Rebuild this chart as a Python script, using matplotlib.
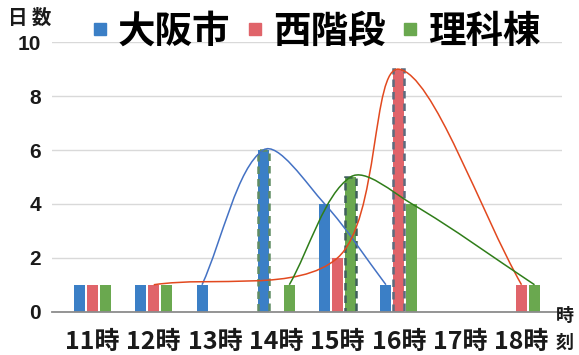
import numpy as np
import matplotlib
matplotlib.use('Agg')
import matplotlib.pyplot as plt
from matplotlib.path import Path
from matplotlib.patches import PathPatch
from matplotlib.lines import Line2D

# data: days counted per hour
hours = ['11時', '12時', '13時', '14時', '15時', '16時', '17時', '18時']
osaka = [1, 1, 1, 6, 4, 1, 0, 0]
nishi = [1, 1, 0, 0, 2, 9, 0, 1]
rika  = [1, 1, 0, 1, 5, 4, 0, 1]
names = ['大阪市', '西階段', '理科棟']

# hours joined by each smoothed trend line
osaka_curve = ['13時', '14時', '15時', '16時']
nishi_curve = ['12時', '15時', '16時', '18時']
rika_curve  = ['14時', '15時', '16時', '18時']

# colours
bar_cols   = ['#3b7fc6', '#e0646a', '#6aa84f']
line_cols  = ['#4472c4', '#e2491f', '#2f7d19']
edge_cols  = ['#5f8c63', '#5b6b7e', '#3f5f5c']

cjk   = 'Noto Sans CJK JP'
digit = ['Liberation Sans Narrow', cjk]

fig = plt.figure(figsize=(5.79, 3.55), dpi=100)
ax  = fig.add_axes([0.0898, 0.122, 0.8808, 0.759])

x     = np.arange(len(hours))
off   = 0.212
width = 0.18
ax.set_xlim(-0.66, 7.66)
ax.set_ylim(0, 10)

series = [osaka, nishi, rika]
curves = [osaka_curve, nishi_curve, rika_curve]

for k, vals in enumerate(series):
    xs = x + (k - 1) * off
    ax.bar(xs, vals, width, color=bar_cols[k], zorder=2)
    # dashed outline on the busiest hour
    i = int(np.argmax(vals))
    ax.bar(xs[i], vals[i], width, fill=False, edgecolor=edge_cols[k],
           linestyle=(0, (3, 2)), linewidth=1.8, zorder=3)


def smooth_path(xs, ys):
    # cubic bezier through the points, tangents weighted by screen distance
    pts  = np.column_stack([xs, ys]).astype(float)
    disp = ax.transData.transform(pts)
    n    = len(pts)
    d    = [np.hypot(*(disp[j + 1] - disp[j])) for j in range(n - 1)]
    verts = [pts[0]]
    codes = [Path.MOVETO]
    for i in range(n - 1):
        p0 = pts[max(i - 1, 0)]
        p1 = pts[i]
        p2 = pts[i + 1]
        p3 = pts[min(i + 2, n - 1)]
        d0 = d[i - 1] if i > 0 else 0.0
        d1 = d[i]
        d2 = d[i + 1] if i + 1 < n - 1 else 0.0
        c1 = p1 + (p2 - p0) / 3.0 * d1 / (d0 + d1)
        c2 = p2 - (p3 - p1) / 3.0 * d1 / (d1 + d2)
        verts += [c1, c2, p2]
        codes += [Path.CURVE4] * 3
    return Path(verts, codes)


for k, (vals, sel) in enumerate(zip(series, curves)):
    idx = [hours.index(h) for h in sel]
    xs  = x[idx] + (k - 1) * off
    ys  = [vals[i] for i in idx]
    ax.add_patch(PathPatch(smooth_path(xs, ys), fill=False,
                           edgecolor=line_cols[k], linewidth=1.1, zorder=4))

# axes styling
ax.set_axisbelow(True)
ax.yaxis.grid(True, color='#d9d9d9', linewidth=1.0)
for s in ['top', 'right', 'left']:
    ax.spines[s].set_visible(False)
ax.spines['bottom'].set_color('#8c8c8c')
ax.spines['bottom'].set_linewidth(1.3)
ax.spines['bottom'].set_zorder(5)

ax.set_xticks(x, hours, fontsize=18, fontweight='bold', family=digit,
              color='#1a1a1a')
ax.set_yticks(range(0, 11, 2), [str(v) for v in range(0, 11, 2)],
              fontsize=15, fontweight='bold', family=['Liberation Sans', cjk],
              color='#1a1a1a')
ax.tick_params(axis='x', length=0, pad=13)
ax.tick_params(axis='y', length=0, pad=8)

# axis titles
fig.text(30 / 579, 1 - 18 / 355, '日 数', fontsize=14, fontweight='bold',
         family=cjk, ha='center', va='center', color='#1a1a1a')
fig.text(565 / 579, 1 - 315 / 355, '時', fontsize=13, fontweight='bold',
         family=cjk, ha='center', va='center', color='#1a1a1a')
fig.text(565 / 579, 1 - 342 / 355, '刻', fontsize=13, fontweight='bold',
         family=cjk, ha='center', va='center', color='#1a1a1a')

# legend
handles = [Line2D([], [], marker='s', linestyle='none', color=c, markersize=9)
           for c in bar_cols]
fig.legend(handles, names, loc='center', bbox_to_anchor=(317 / 579, 1 - 31 / 355),
           ncol=3, frameon=False, borderpad=0, handlelength=0.35,
           handletextpad=0.3, columnspacing=0.48,
           prop={'family': cjk, 'weight': 'bold', 'size': 27})

fig.savefig('out.png', dpi=100)
